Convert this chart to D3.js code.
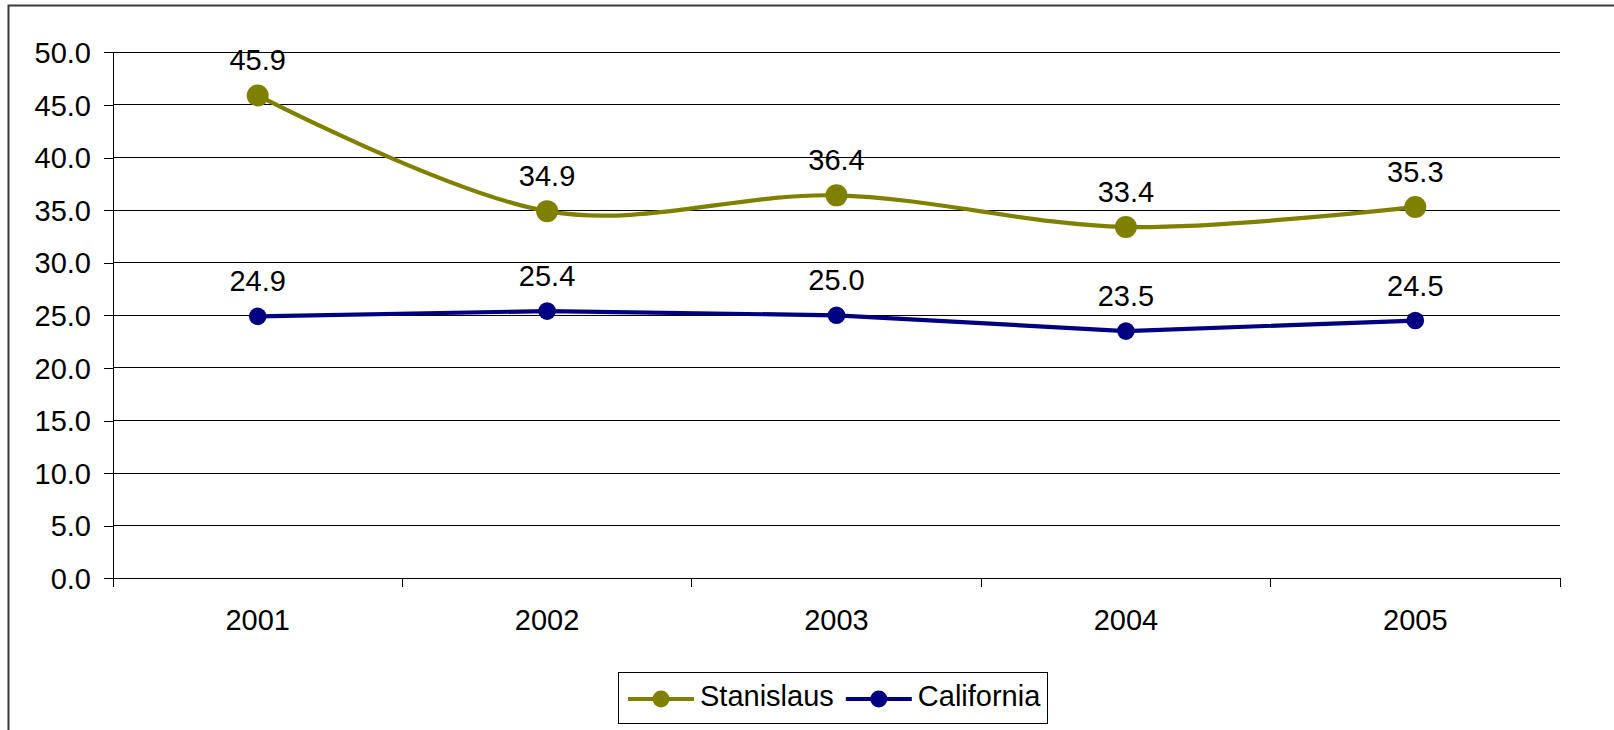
<!DOCTYPE html>
<html>
<head>
<meta charset="utf-8">
<script src="https://cdn.jsdelivr.net/npm/d3@7"></script>
<style>
  html, body { margin: 0; padding: 0; background: #fff; }
  svg { display: block; font-family: "Liberation Sans", Arial, sans-serif; }
</style>
</head>
<body>
<svg id="chart" width="1614" height="730"></svg>
<script>
// ---- data ----
const years = ["2001", "2002", "2003", "2004", "2005"];
const stanislaus = [45.9, 34.9, 36.4, 33.4, 35.3];
const california = [24.9, 25.4, 25.0, 23.5, 24.5];
const seriesNames = ["Stanislaus", "California"];
const yTicks = [0, 5, 10, 15, 20, 25, 30, 35, 40, 45, 50];

// ---- layout ----
const W = 1614, H = 730;
const plot = { left: 113, right: 1560, top: 52.3, bottom: 578.3 };
const fontSize = 29;
const colors = ["#808000", "#000080"];
const markerR = [11, 8.8];

const svg = d3.select("#chart");

// outer frame (extends past the window on right and bottom)
svg.append("rect")
  .attr("x", 8.5).attr("y", 5.5)
  .attr("width", 1800).attr("height", 900)
  .attr("fill", "none").attr("stroke", "#3a3a3a").attr("stroke-width", 2);

const x = d3.scaleBand().domain(years).range([plot.left, plot.right]).padding(0);
const y = d3.scaleLinear().domain([0, 50]).range([plot.bottom, plot.top]);
const cx = d => x(d) + x.bandwidth() / 2;

// gridlines + y axis
const yAxis = d3.axisLeft(y).tickValues(yTicks).tickFormat(d3.format(".1f"))
  .tickSize(9).tickPadding(13);
const gy = svg.append("g").attr("transform", `translate(${plot.left},0)`).call(yAxis);
gy.select(".domain").remove();
gy.selectAll(".tick line").attr("stroke", "#000").attr("shape-rendering", "crispEdges");
gy.selectAll(".tick text").attr("font-size", fontSize).attr("fill", "#000")
  .attr("font-family", "Liberation Sans, Arial, sans-serif").attr("dy", "0.35em");

svg.append("g").selectAll("line").data(yTicks).join("line")
  .attr("x1", plot.left).attr("x2", plot.right)
  .attr("y1", d => y(d)).attr("y2", d => y(d))
  .attr("stroke", "#000").attr("stroke-width", 1).attr("shape-rendering", "crispEdges");

// left axis line
svg.append("line")
  .attr("x1", plot.left).attr("x2", plot.left)
  .attr("y1", plot.top).attr("y2", plot.bottom + 9)
  .attr("stroke", "#000").attr("shape-rendering", "crispEdges");

// x axis ticks at category boundaries
const boundaries = years.map(d => x(d)).concat([plot.right]);
svg.append("g").selectAll("line").data(boundaries).join("line")
  .attr("x1", d => d).attr("x2", d => d)
  .attr("y1", plot.bottom).attr("y2", plot.bottom + 9)
  .attr("stroke", "#000").attr("shape-rendering", "crispEdges");

// x labels
svg.append("g").selectAll("text").data(years).join("text")
  .attr("x", d => cx(d)).attr("y", plot.bottom + 52)
  .attr("text-anchor", "middle").attr("font-size", fontSize).attr("fill", "#000")
  .text(d => d);

// series
const allSeries = [stanislaus, california];
const curves = [d3.curveCardinal.tension(0), d3.curveLinear];

allSeries.forEach((vals, i) => {
  const pts = years.map((yr, j) => ({ yr, v: vals[j] }));
  const line = d3.line().x(d => cx(d.yr)).y(d => y(d.v)).curve(curves[i]);
  svg.append("path").datum(pts)
    .attr("d", line).attr("fill", "none")
    .attr("stroke", colors[i]).attr("stroke-width", 4.2)
    .attr("stroke-linejoin", "round");
  svg.append("g").selectAll("circle").data(pts).join("circle")
    .attr("cx", d => cx(d.yr)).attr("cy", d => y(d.v)).attr("r", markerR[i])
    .attr("fill", colors[i]);
  svg.append("g").selectAll("text").data(pts).join("text")
    .attr("x", d => cx(d.yr)).attr("y", d => y(d.v) - 25)
    .attr("text-anchor", "middle").attr("font-size", fontSize).attr("fill", "#000")
    .text(d => d3.format(".1f")(d.v));
});

// legend
const legend = svg.append("g");
legend.append("rect")
  .attr("x", 618.5).attr("y", 672.5).attr("width", 429).attr("height", 51)
  .attr("fill", "#fff").attr("stroke", "#000").attr("stroke-width", 1);
let lx = 628;
const ly = 699;
seriesNames.forEach((name, i) => {
  legend.append("line").attr("x1", lx).attr("x2", lx + 66)
    .attr("y1", ly).attr("y2", ly).attr("stroke", colors[i]).attr("stroke-width", 4.2);
  legend.append("circle").attr("cx", lx + 33).attr("cy", ly).attr("r", 8.5).attr("fill", colors[i]);
  const t = legend.append("text").attr("x", lx + 72).attr("y", ly + 7)
    .attr("font-size", fontSize).attr("fill", "#000").text(name);
  lx = lx + 72 + t.node().getComputedTextLength() + 12;
});
</script>
</body>
</html>
